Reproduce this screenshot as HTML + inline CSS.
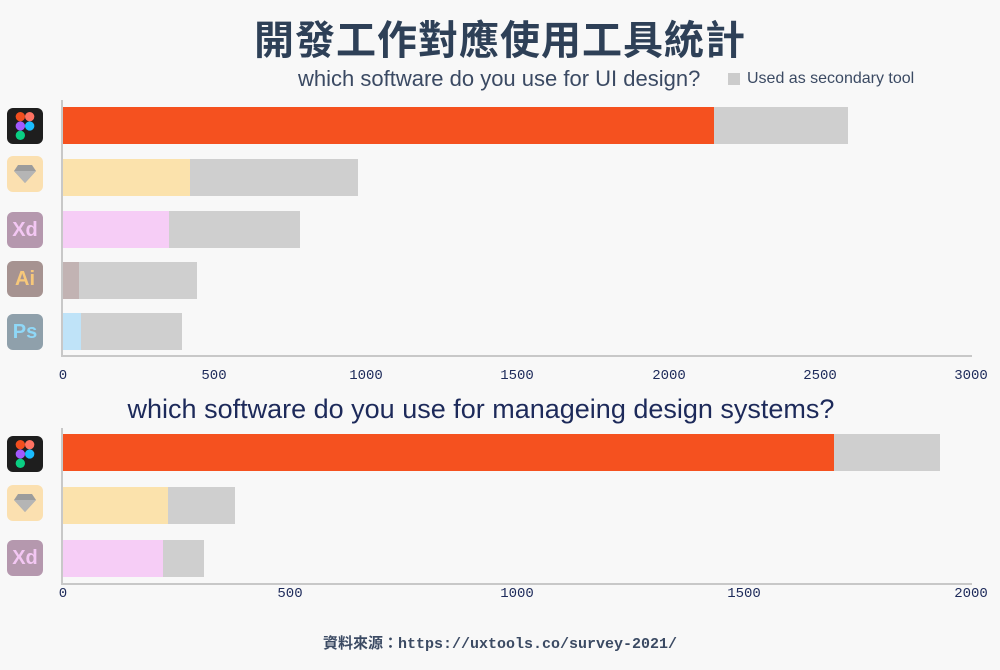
<!DOCTYPE html>
<html><head><meta charset="utf-8"><style>
html,body{margin:0;padding:0;background:#f8f8f8;width:1000px;height:670px;overflow:hidden}
body{position:relative;font-family:"Liberation Sans","Noto Sans CJK TC",sans-serif}
.abs{position:absolute}
.bar{position:absolute;height:37px}
.tick{position:absolute;font-family:"Liberation Mono",monospace;font-size:14px;color:#1d2a5a;transform:translateX(-50%)}
.ico{position:absolute;left:7px;width:36px;height:36px;border-radius:6px;font-family:"Liberation Sans",sans-serif;font-weight:bold;font-size:20px;display:flex;align-items:center;justify-content:center}
.ico svg{flex:none}
</style></head><body>
<div class="abs" style="left:0;width:1000px;top:8px;text-align:center;font-size:40px;font-weight:bold;color:#2e4057;letter-spacing:1px">開發工作對應使用工具統計</div>
<div class="abs" style="left:298px;top:66px;font-size:22px;color:#3b4a63">which software do you use for UI design?</div>
<div class="abs" style="left:728px;top:73px;width:12px;height:12px;background:#cccccc"></div>
<div class="abs" style="left:747px;top:70px;font-size:16px;color:#3b4a63">Used as secondary tool</div>

<!-- chart 1 -->
<div class="abs" style="left:61px;top:100px;width:2px;height:257px;background:#c8c8c8"></div>
<div class="abs" style="left:61px;top:355px;width:911px;height:2px;background:#c8c8c8"></div>
<div class="bar" style="left:63px;top:107px;width:785px;background:#cfcfcf"></div>
<div class="bar" style="left:63px;top:107px;width:651px;background:#f5511f"></div>
<div class="bar" style="left:63px;top:159px;width:295px;background:#cfcfcf"></div>
<div class="bar" style="left:63px;top:159px;width:127px;background:#fbe2ac"></div>
<div class="bar" style="left:63px;top:211px;width:237px;background:#cfcfcf"></div>
<div class="bar" style="left:63px;top:211px;width:106px;background:#f6cdf6"></div>
<div class="bar" style="left:63px;top:262px;width:134px;background:#cfcfcf"></div>
<div class="bar" style="left:63px;top:262px;width:16px;background:#c2b3b3"></div>
<div class="bar" style="left:63px;top:313px;width:119px;background:#cfcfcf"></div>
<div class="bar" style="left:63px;top:313px;width:18px;background:#bfe3f8"></div>
<div class="tick" style="left:63px;top:368px">0</div>
<div class="tick" style="left:214px;top:368px">500</div>
<div class="tick" style="left:366px;top:368px">1000</div>
<div class="tick" style="left:517px;top:368px">1500</div>
<div class="tick" style="left:669px;top:368px">2000</div>
<div class="tick" style="left:820px;top:368px">2500</div>
<div class="tick" style="left:971px;top:368px">3000</div>

<div class="ico" style="top:108px;background:#1e1e1e"><svg width="20" height="28" viewBox="0 0 18 27"><rect x="0" y="0" width="9" height="9" rx="4.5" fill="#f24e1e"/><rect x="9" y="0" width="9" height="9" rx="4.5" fill="#ff7262"/><rect x="0" y="9" width="9" height="9" rx="4.5" fill="#a259ff"/><circle cx="13.5" cy="13.5" r="4.5" fill="#1abcfe"/><rect x="0" y="18" width="9" height="9" rx="4.5" fill="#0acf83"/></svg></div>
<div class="ico" style="top:156px;background:#fbe0b0"><svg width="24" height="20" viewBox="0 0 24 20"><polygon points="5,1 19,1 23,7 12,19 1,7" fill="#9c9c9c"/><polygon points="1,7 23,7 12,19" fill="#b5b5b5"/></svg></div>
<div class="ico" style="top:212px;background:#b598ae;color:#f3c7f3">Xd</div>
<div class="ico" style="top:261px;background:#a69391;color:#f7c87a">Ai</div>
<div class="ico" style="top:314px;background:#8fa0ab;color:#8fd8f8">Ps</div>

<!-- chart 2 -->
<div class="abs" style="left:0;width:962px;top:394px;text-align:center;font-size:27px;color:#1d2a5a">which software do you use for manageing design systems?</div>
<div class="abs" style="left:61px;top:428px;width:2px;height:157px;background:#c8c8c8"></div>
<div class="abs" style="left:61px;top:583px;width:911px;height:2px;background:#c8c8c8"></div>
<div class="bar" style="left:63px;top:434px;width:877px;background:#cfcfcf"></div>
<div class="bar" style="left:63px;top:434px;width:771px;background:#f5511f"></div>
<div class="bar" style="left:63px;top:487px;width:172px;background:#cfcfcf"></div>
<div class="bar" style="left:63px;top:487px;width:105px;background:#fbe2ac"></div>
<div class="bar" style="left:63px;top:540px;width:141px;background:#cfcfcf"></div>
<div class="bar" style="left:63px;top:540px;width:100px;background:#f6cdf6"></div>
<div class="tick" style="left:63px;top:586px">0</div>
<div class="tick" style="left:290px;top:586px">500</div>
<div class="tick" style="left:517px;top:586px">1000</div>
<div class="tick" style="left:744px;top:586px">1500</div>
<div class="tick" style="left:971px;top:586px">2000</div>

<div class="ico" style="top:436px;background:#1e1e1e"><svg width="20" height="28" viewBox="0 0 18 27"><rect x="0" y="0" width="9" height="9" rx="4.5" fill="#f24e1e"/><rect x="9" y="0" width="9" height="9" rx="4.5" fill="#ff7262"/><rect x="0" y="9" width="9" height="9" rx="4.5" fill="#a259ff"/><circle cx="13.5" cy="13.5" r="4.5" fill="#1abcfe"/><rect x="0" y="18" width="9" height="9" rx="4.5" fill="#0acf83"/></svg></div>
<div class="ico" style="top:485px;background:#fbe0b0"><svg width="24" height="20" viewBox="0 0 24 20"><polygon points="5,1 19,1 23,7 12,19 1,7" fill="#9c9c9c"/><polygon points="1,7 23,7 12,19" fill="#b5b5b5"/></svg></div>
<div class="ico" style="top:540px;background:#b598ae;color:#f3c7f3">Xd</div>

<div class="abs" style="left:0;width:1000px;top:632px;text-align:center;font-family:'Liberation Mono','Noto Sans CJK TC',monospace;font-size:15px;font-weight:bold;color:#3b4a63">資料來源：https://uxtools.co/survey-2021/</div>
</body></html>
